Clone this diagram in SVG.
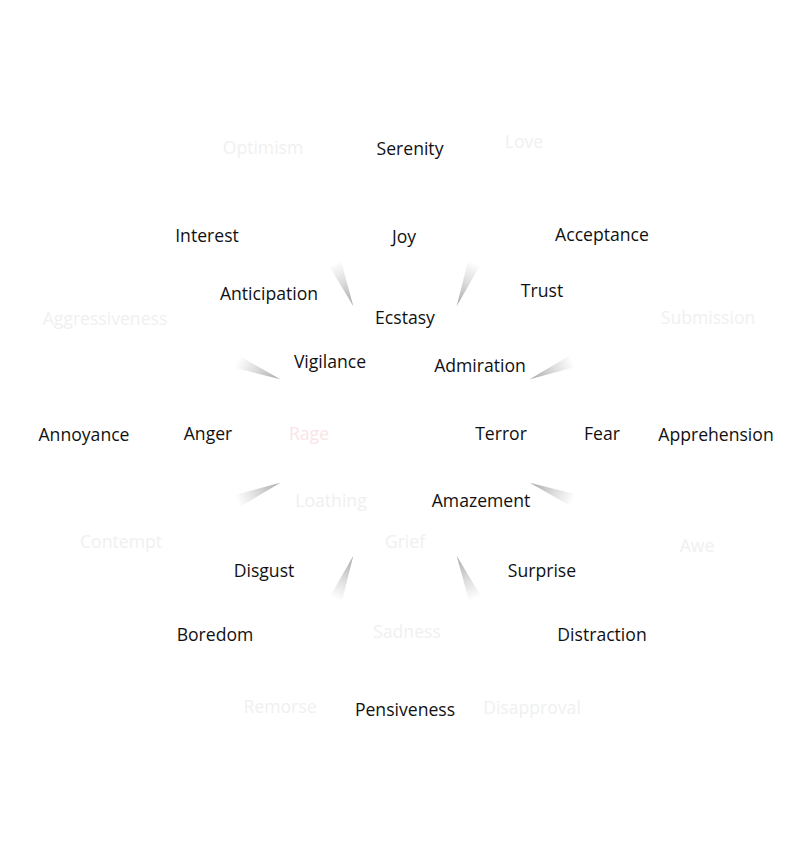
<svg xmlns="http://www.w3.org/2000/svg" width="811" height="856" viewBox="0 0 811 856">
<style>
text{font-family:"Open Sans","Liberation Sans",sans-serif;font-size:17.6px;text-anchor:middle}
.d{fill:#111}
.l{fill:#f0f0f0}
.r{fill:#fbe3e8}
</style>
<defs>
<linearGradient id="sg" x1="0" y1="0" x2="1" y2="0">
<stop offset="0" stop-color="#a8a8a8"/>
<stop offset="0.55" stop-color="#dcdcdc"/>
<stop offset="1" stop-color="#ffffff"/>
</linearGradient>
<polygon id="spike" points="135,0 182,-7 182,6" fill="url(#sg)"/>
</defs>
<rect width="811" height="856" fill="#fff"/>
<g id="spikes">
<use href="#spike" transform="translate(405,431) rotate(-112.5)"/>
<use href="#spike" transform="translate(405,431) rotate(-67.5)"/>
<use href="#spike" transform="translate(405,431) rotate(-22.5)"/>
<use href="#spike" transform="translate(405,431) rotate(22.5)"/>
<use href="#spike" transform="translate(405,431) rotate(67.5)"/>
<use href="#spike" transform="translate(405,431) rotate(112.5)"/>
<use href="#spike" transform="translate(405,431) rotate(157.5)"/>
<use href="#spike" transform="translate(405,431) rotate(-157.5)"/>
</g>
<g id="labels" transform="translate(0,1)">
<g id="optimism"><text class="l" x="263" y="153">Optimism</text></g>
<g id="serenity"><text class="d" x="410" y="154">Serenity</text></g>
<g id="love"><text class="l" x="524" y="147">Love</text></g>
<g id="interest"><text class="d" x="207" y="241">Interest</text></g>
<g id="joy"><text class="d" x="404" y="242">Joy</text></g>
<g id="acceptance"><text class="d" x="602" y="240">Acceptance</text></g>
<g id="anticipation"><text class="d" x="269" y="299">Anticipation</text></g>
<g id="trust"><text class="d" x="542" y="296">Trust</text></g>
<g id="aggressiveness"><text class="l" x="105" y="324">Aggressiveness</text></g>
<g id="ecstasy"><text class="d" x="405" y="323">Ecstasy</text></g>
<g id="submission"><text class="l" x="708" y="323">Submission</text></g>
<g id="vigilance"><text class="d" x="330" y="367">Vigilance</text></g>
<g id="admiration"><text class="d" x="480" y="371">Admiration</text></g>
<g id="annoyance"><text class="d" x="84" y="440">Annoyance</text></g>
<g id="anger"><text class="d" x="208" y="439">Anger</text></g>
<g id="rage"><text class="r" x="309" y="439">Rage</text></g>
<g id="terror"><text class="d" x="501" y="439">Terror</text></g>
<g id="fear"><text class="d" x="602" y="439">Fear</text></g>
<g id="apprehension"><text class="d" x="716" y="440">Apprehension</text></g>
<g id="loathing"><text class="l" x="331" y="506">Loathing</text></g>
<g id="amazement"><text class="d" x="481" y="506">Amazement</text></g>
<g id="contempt"><text class="l" x="121" y="547">Contempt</text></g>
<g id="grief"><text class="l" x="405" y="547">Grief</text></g>
<g id="awe"><text class="l" x="697" y="551">Awe</text></g>
<g id="disgust"><text class="d" x="264" y="576">Disgust</text></g>
<g id="surprise"><text class="d" x="542" y="576">Surprise</text></g>
<g id="boredom"><text class="d" x="215" y="640">Boredom</text></g>
<g id="sadness"><text class="l" x="407" y="637">Sadness</text></g>
<g id="distraction"><text class="d" x="602" y="640">Distraction</text></g>
<g id="remorse"><text class="l" x="280" y="712">Remorse</text></g>
<g id="pensiveness"><text class="d" x="405" y="715">Pensiveness</text></g>
<g id="disapproval"><text class="l" x="532" y="713">Disapproval</text></g>
</g>
</svg>
